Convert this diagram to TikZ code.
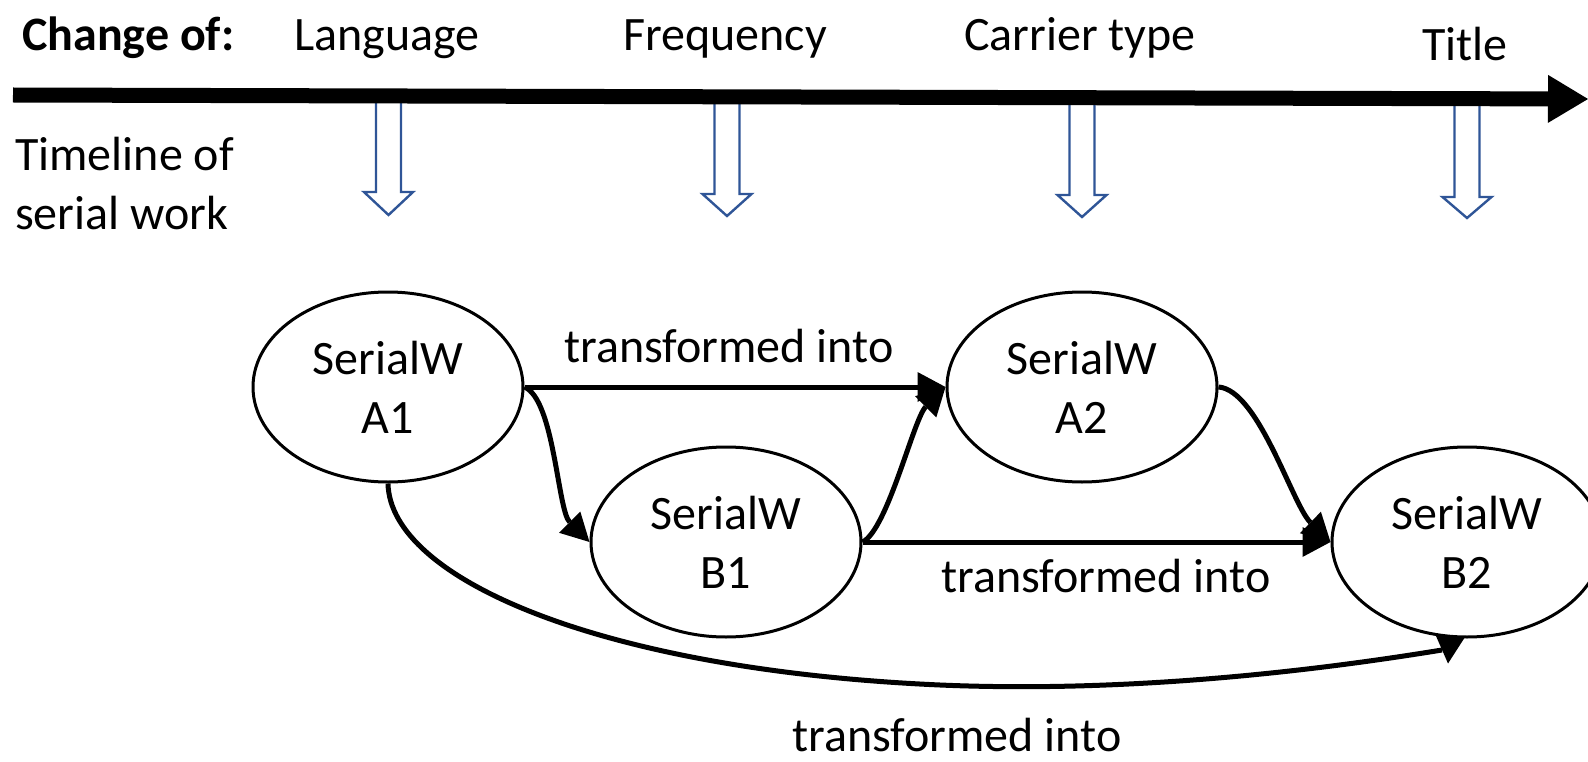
\documentclass[tikz,border=0pt]{standalone}
\usepackage{fontspec}
\setmainfont{Carlito}
\usetikzlibrary{arrows.meta,shapes.geometric,calc}
\definecolor{hollowblue}{RGB}{47,85,151}
\begin{document}
\begin{tikzpicture}[x=1pt,y=-1pt,
  every node/.style={font=\fontsize{48}{59}\selectfont, inner sep=0pt},
  work/.style={ellipse, draw, line width=3pt, minimum width=270pt, minimum height=190pt, align=center},
  conn/.style={line width=5pt, -{Triangle[length=28pt,width=30pt,line width=0pt]}},
  plainconn/.style={line width=5pt},
  hollow/.style={draw=hollowblue, line width=2.4pt, fill=white, line join=miter},
  timeline/.style={line width=15pt, -{Triangle[length=40pt,width=48pt,line width=0pt]}},
  lbl/.style={anchor=base}]
\useasboundingbox (0,0) rectangle (1588,762);
\clip (0,0) rectangle (1588,762);

% header texts
\node[anchor=base west, font=\fontsize{48}{59}\selectfont\bfseries] (chg) at (22,51) {Change of:};
\node[lbl] (lang) at (387,51) {Language};
\node[lbl] (freq) at (725,51) {Frequency};
\node[lbl] (carr) at (1080,51) {Carrier type};
\node[lbl] (title) at (1465,61) {Title};
\node[anchor=north west, align=left] (tl) at (15,137) {Timeline of\\serial work};

% hollow arrows
\foreach \cx/\hs/\tp in {388.5/192/215, 727/194/216, 1082/195/217, 1467/197/218}{
  \draw[hollow] (\cx-12.5,100) -- (\cx+12.5,100) -- (\cx+12.5,\hs) -- (\cx+24.5,\hs)
    -- (\cx,\tp) -- (\cx-24.5,\hs) -- (\cx-12.5,\hs) -- cycle;
}

% timeline
\coordinate (tstart) at (13,95);
\coordinate (tend) at (1588,99);
\draw[timeline] (tstart) -- (tend);

% works
\node[work] (A1) at (388,387) {SerialW\\A1};
\node[work] (B1) at (726,542) {SerialW\\B1};
\node[work] (A2) at (1082,387) {SerialW\\A2};
\node[work] (B2) at (1467,542) {SerialW\\B2};

% straight connectors
\draw[conn] (A1.east) -- (A2.west);
\draw[conn] (B1.east) -- (B2.west);

% curved connectors
\draw[conn] (A1.east) .. controls ($(A1.east)+(30,13)$) and ($(B1.west)+(-32,-32)$) .. (B1.west);
\draw[conn] (B1.east) .. controls ($(B1.east)+(25,-12)$) and ($(A2.west)+(-32,32)$) .. (A2.west);
\draw[conn] (A2.east) .. controls ($(A2.east)+(40,3)$) and ($(B2.west)+(-38,-37)$) .. (B2.west);

% long curve A1 -> B2
\coordinate (low) at (940,685);
\coordinate (B2in) at (1442,650);
\coordinate (B2tip) at ($(B2.south)+(-19,25)$);
\draw[plainconn] (A1.south) .. controls ($(A1.south)+(2,95)$) and (600,670) .. (low)
  .. controls (1150,694) and (1350,665) .. (B2in);
\draw[conn] ($(B2tip)+(2,-25)$) -- (B2tip);

% labels
\node[lbl] (t1) at (729,362) {transformed into};
\node[lbl] (t2) at (1106,592) {transformed into};
\node[lbl] (t3) at (957,751) {transformed into};
\end{tikzpicture}
\end{document}
